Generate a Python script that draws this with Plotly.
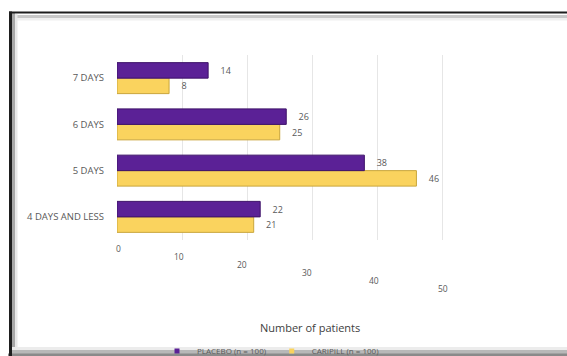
import plotly.graph_objects as go

categories = ["4 DAYS AND LESS", "5 DAYS", "6 DAYS", "7 DAYS"]
placebo = [22, 38, 26, 14]
caripill = [21, 46, 25, 8]
placebo_name = "PLACEBO (n = 100)"
caripill_name = "CARIPILL (n = 100)"
x_ticks = [0, 10, 20, 30, 40, 50]
x_title = "Number of patients"

W, H = 567, 356
L, R, T, B = 117, 92, 55, 116
PW, PH = W - L - R, H - T - B


def px(x):
    return (x - L) / PW


def py(y):
    return (H - B - y) / PH


grey = "#595959"
font = "Open Sans"
purple, purple_edge = "#5B2196", "#3D1268"
yellow, yellow_edge = "#FAD35E", "#C9A53A"

fig = go.Figure()
fig.add_trace(go.Bar(
    y=categories, x=caripill, orientation="h", name=caripill_name,
    marker=dict(color=yellow, line=dict(color=yellow_edge, width=1)),
    text=caripill, texttemplate="    %{x}", textposition="outside", cliponaxis=False,
    textfont=dict(size=9, color=grey, family=font), showlegend=False,
))
fig.add_trace(go.Bar(
    y=categories, x=placebo, orientation="h", name=placebo_name,
    marker=dict(color=purple, line=dict(color=purple_edge, width=1)),
    text=placebo, texttemplate="    %{x}", textposition="outside", cliponaxis=False,
    textfont=dict(size=9, color=grey, family=font), showlegend=False,
))
# legend-only entries with small square swatches
for name, col in [(placebo_name, purple), (caripill_name, yellow)]:
    fig.add_trace(go.Scatter(
        x=[None], y=[None], mode="markers", name=name,
        marker=dict(symbol="square", size=5, color=col),
    ))

annotations = []
for v in x_ticks:
    annotations.append(dict(
        x=v, xref="x", y=py(248 + 0.8 * v), yref="paper",
        xshift=-0.011 * v * (50 - v) + 1,
        text=str(v), showarrow=False, xanchor="center", yanchor="middle",
        font=dict(size=8.5, color=grey, family=font),
    ))
annotations.append(dict(
    x=px(310), xref="paper", y=py(327), yref="paper", text=x_title,
    showarrow=False, xanchor="center", yanchor="middle",
    font=dict(size=11, color="#404040", family=font),
))


def hline(y, x0, x1, color, w):
    return dict(type="line", xref="paper", yref="paper", x0=px(x0), x1=px(x1),
                y0=py(y), y1=py(y), line=dict(color=color, width=w), layer="below")


def vline(x, y0, y1, color, w):
    return dict(type="line", xref="paper", yref="paper", x0=px(x), x1=px(x),
                y0=py(y0), y1=py(y1), line=dict(color=color, width=w), layer="below")


shapes = [
    # inner soft shadows
    hline(19, 14, 620, "#f0f0f0", 3),
    hline(16.5, 13, 620, "#c8c8c8", 3),
    vline(16, 14, 350, "#e8e8e8", 3),
    vline(13.5, 13, 352, "#a8a8a8", 3),
    hline(348.5, 10, 620, "#ececec", 3),
    hline(352, 10, 620, "#b8b8b8", 4),
    hline(355, 8, 620, "#8a8a8a", 3),
    # dark outer edges
    hline(12.5, 9, 620, "#1e1e1e", 2),
    vline(10.5, 11.5, 356, "#1e1e1e", 3),
]

fig.update_layout(
    width=W, height=H,
    margin=dict(l=L, r=R, t=T, b=B, autoexpand=False),
    paper_bgcolor="white", plot_bgcolor="white",
    barmode="group", bargap=0.33, bargroupgap=0,
    font=dict(family=font, color=grey, size=8),
    xaxis=dict(range=[0, 55], tickvals=x_ticks, showticklabels=False,
               showgrid=True, gridcolor="#e6e6e6", gridwidth=1,
               zeroline=False, showline=False, ticks=""),
    yaxis=dict(categoryorder="array", categoryarray=categories,
               showgrid=False, zeroline=False, showline=False, ticks="",
               ticklabelstandoff=12,
               tickfont=dict(size=9.5, color=grey, family=font)),
    showlegend=True,
    legend=dict(orientation="h", x=px(271), xanchor="center", y=py(351),
                yanchor="middle", font=dict(size=8, color=grey, family=font),
                itemwidth=30, bgcolor="rgba(0,0,0,0)"),
    annotations=annotations,
    shapes=shapes,
)

fig.write_html("out.html")
